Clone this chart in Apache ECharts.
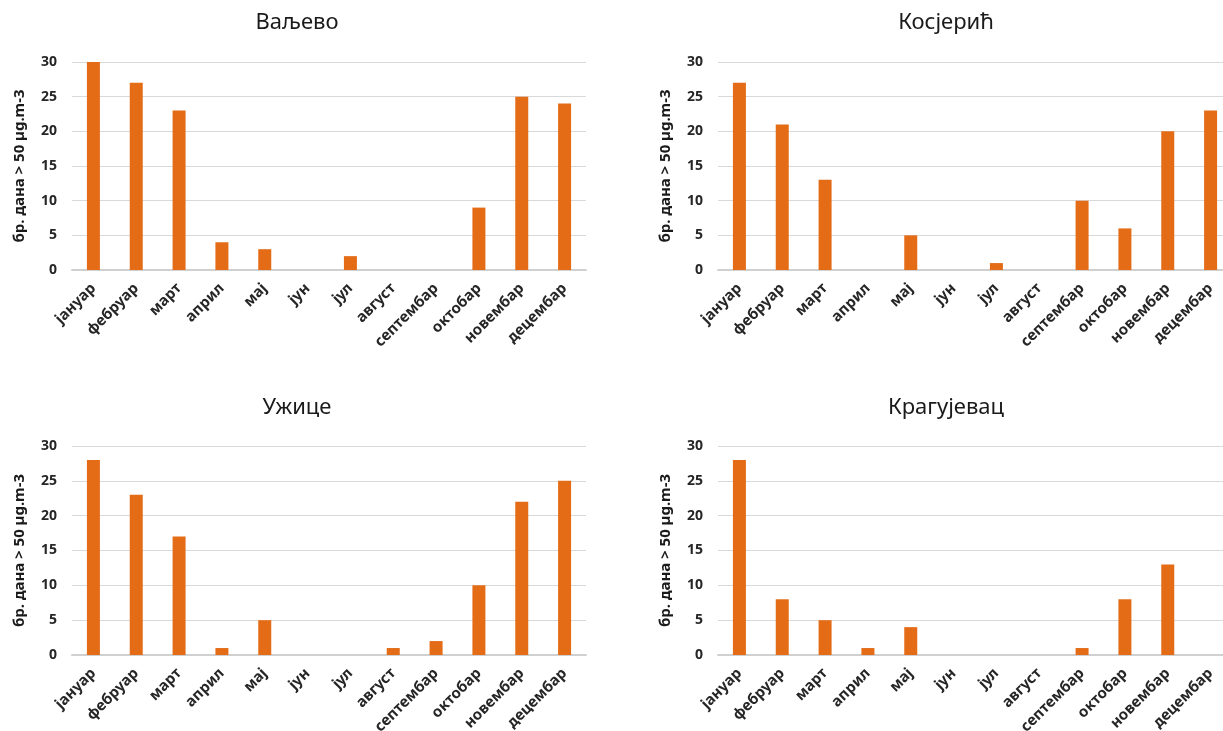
<!DOCTYPE html>
<html>
<head>
<meta charset="utf-8">
<script src="https://cdn.jsdelivr.net/npm/echarts@6/dist/echarts.min.js"></script>
<style>
html,body{margin:0;padding:0;background:#fff;}
#c{width:1223px;height:731px;}
</style>
</head>
<body>
<div id="c"></div>
<script>
const months = ['јануар','фебруар','март','април','мај','јун','јул','август','септембар','октобар','новембар','децембар'];
const titles = ['Ваљево','Косјерић','Ужице','Крагујевац'];
const valjevo = [30, 27, 23, 4, 3, 0, 2, 0, 0, 9, 25, 24];
const kosjeric = [27, 21, 13, 0, 5, 0, 1, 0, 10, 6, 20, 23];
const uzice = [28, 23, 17, 1, 5, 0, 0, 1, 2, 10, 22, 25];
const kragujevac = [28, 8, 5, 1, 4, 0, 0, 0, 1, 8, 13, 0];
const yTicks = [0, 5, 10, 15, 20, 25, 30];
const yName = 'бр. дана > 50 µg.m-3';

const seriesData = [valjevo, kosjeric, uzice, kragujevac];
const FONT = 'Noto Sans';
const grids = [
  {left: 72, top: 62, width: 514, height: 208, outerBoundsMode: 'none', containLabel: false},
  {left: 718, top: 62, width: 514, height: 208, outerBoundsMode: 'none', containLabel: false},
  {left: 72, top: 446, width: 514, height: 209, outerBoundsMode: 'none', containLabel: false},
  {left: 718, top: 446, width: 514, height: 209, outerBoundsMode: 'none', containLabel: false}
];
const titlePos = [
  {left: 297, top: 12},
  {left: 946, top: 12},
  {left: 297, top: 397},
  {left: 946, top: 397}
];

const option = {
  backgroundColor: '#ffffff',
  animation: false,
  title: titles.map((t, i) => ({
    text: t,
    left: titlePos[i].left,
    top: titlePos[i].top,
    textAlign: 'center',
    padding: 0,
    textStyle: {fontFamily: FONT, fontSize: 22, fontWeight: 'normal', color: '#1a1a1a'}
  })),
  grid: grids,
  xAxis: grids.map((g, i) => ({
    type: 'category',
    gridIndex: i,
    data: months,
    axisTick: {show: false},
    axisLine: {lineStyle: {color: '#d0d0d0', width: 2}},
    axisLabel: {
      interval: 0, rotate: 45, margin: 16,
      fontFamily: FONT, fontSize: 15, fontWeight: 'bold', color: '#262626'
    }
  })),
  yAxis: grids.map((g, i) => ({
    type: 'value',
    gridIndex: i,
    min: 0, max: yTicks[yTicks.length - 1], interval: yTicks[1] - yTicks[0],
    name: yName,
    nameLocation: 'middle',
    nameGap: 45,
    nameTextStyle: {fontFamily: FONT, fontSize: 15, fontWeight: 'bold', color: '#1a1a1a'},
    axisLine: {show: false},
    axisTick: {show: false},
    splitLine: {lineStyle: {color: '#d9d9d9', width: 1}},
    axisLabel: {margin: 15, fontFamily: FONT, fontSize: 14, fontWeight: 'bold', color: '#262626'}
  })),
  series: seriesData.map((d, i) => ({
    type: 'bar',
    xAxisIndex: i,
    yAxisIndex: i,
    data: d,
    barWidth: 13,
    itemStyle: {color: '#E46C17'}
  }))
};

const chart = echarts.init(document.getElementById('c'), null, {renderer: 'canvas'});
chart.setOption(option);
</script>
</body>
</html>
